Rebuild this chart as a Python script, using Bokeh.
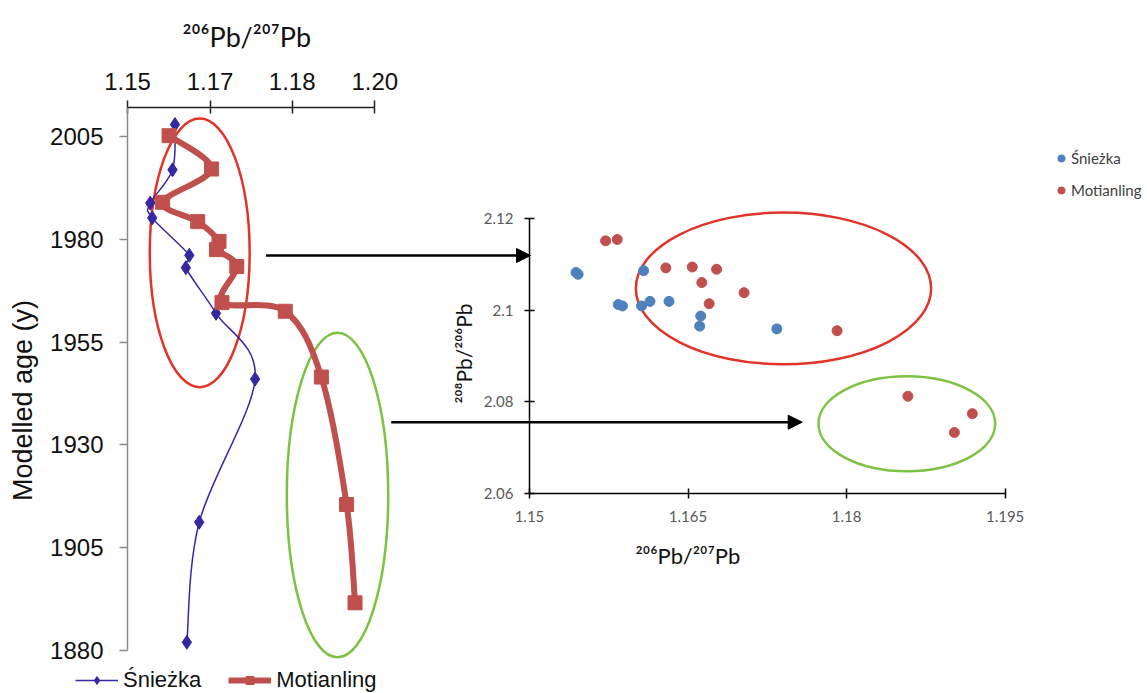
from bokeh.plotting import figure
from bokeh.models import (Range1d, FixedTicker, Title, Legend, LegendItem, Arrow, NormalHead)
from bokeh.layouts import row
from bokeh.embed import file_html
from bokeh.resources import INLINE

# ---------------- data: left chart (age profile) ----------------
SNIEZKA_AGE = [2007.9, 1996.9, 1988.8, 1985.2, 1976.1, 1973.1, 1962.0, 1946.0, 1911.2, 1882.0]
SNIEZKA_RATIO = [1.1596, 1.1591, 1.1546, 1.1550, 1.1625, 1.1618, 1.1679, 1.1758, 1.1645, 1.1620]

MOTIANLING_AGE = [2005.2, 1997.1, 1989.0, 1984.3, 1979.5, 1977.5, 1973.4, 1964.6, 1962.5, 1946.5, 1915.5, 1891.6]
MOTIANLING_RATIO = [1.1584, 1.1670, 1.1571, 1.1642, 1.1685, 1.1680, 1.1721, 1.1691, 1.1819, 1.1892, 1.1943, 1.1960]

AGE_TICKS = [1880, 1905, 1930, 1955, 1980, 2005]
TOP_TICKS = [1.15, 1.1667, 1.1833, 1.20]
TOP_TICK_LABELS = ["1.15", "1.17", "1.18", "1.20"]

# ---------------- data: right chart (208/206 vs 206/207) ----------------
SN_206_207 = [1.1544, 1.1546, 1.1608, 1.1584, 1.1588, 1.1606, 1.1614, 1.1632, 1.1662, 1.1661, 1.1734]
SN_208_206 = [2.1082, 2.1078, 2.1086, 2.1012, 2.1009, 2.1009, 2.1019, 2.1019, 2.0987, 2.0965, 2.0959]
MO_206_207 = [1.1572, 1.1583, 1.1629, 1.1654, 1.1677, 1.1663, 1.1703, 1.1670, 1.1791, 1.1858, 1.1919, 1.1902]
MO_208_206 = [2.1151, 2.1154, 2.1092, 2.1094, 2.1089, 2.1060, 2.1038, 2.1014, 2.0955, 2.0812, 2.0774, 2.0733]

R_X_TICKS = [1.15, 1.165, 1.18, 1.195]
R_X_LABELS = ["1.15", "1.165", "1.18", "1.195"]
R_Y_TICKS = [2.06, 2.08, 2.10, 2.12]
R_Y_LABELS = ["2.06", "2.08", "2.1", "2.12"]

# annotation shapes (in each chart's data units)
L_ELLIPSES = dict(x=[1.1646, 1.19246], y=[1976.7, 1917.8], w=[0.0202, 0.0205], h=[65.3, 78.9])
R_ELLIPSES = dict(x=[1.17403, 1.18570], y=[2.10473, 2.07522], w=[0.02794, 0.01672], h=[0.03309, 0.02072])
ELLIPSE_COLORS = ["#E2332A", "#7DC242"]
ARROW_Y = [1976.06, 1935.52]        # left-chart age units
ARROW_X0 = [1.17800, 1.20332]       # left-chart ratio units (start)
ARROW_X1 = [1.23148, 1.28641]       # left-chart ratio units (tip)

BLUE_DARK = "#3528A0"
RED = "#C0504D"
BLUE = "#4F81BD"
ARIAL = "Liberation Sans"
CALIBRI = "Lato"

# left-chart scale: 1.15 sits at x=127 px, 4946 px per ratio unit; 2005 at y=136 px, 4.112 px per year
PX_PER_RATIO = 4946.0
PX_PER_YEAR = 4.112


def smooth(xs, ys, t=1.0 / 6.0):
    """Bezier control points for an Excel-like smoothed line through the points."""
    n = len(xs)
    seg = {k: [] for k in ("x0", "y0", "x1", "y1", "cx0", "cy0", "cx1", "cy1")}
    for i in range(n - 1):
        xp, yp = (xs[i - 1], ys[i - 1]) if i > 0 else (xs[i], ys[i])
        xn, yn = (xs[i + 2], ys[i + 2]) if i + 2 < n else (xs[i + 1], ys[i + 1])
        seg["x0"].append(xs[i]); seg["y0"].append(ys[i])
        seg["x1"].append(xs[i + 1]); seg["y1"].append(ys[i + 1])
        seg["cx0"].append(xs[i] + (xs[i + 1] - xp) * t)
        seg["cy0"].append(ys[i] + (ys[i + 1] - yp) * t)
        seg["cx1"].append(xs[i + 1] - (xn - xs[i]) * t)
        seg["cy1"].append(ys[i + 1] - (yn - ys[i]) * t)
    return seg


def plain(fig):
    fig.frame_align = False
    fig.xgrid.visible = False
    fig.ygrid.visible = False
    fig.outline_line_color = None


Y_TOP = 2005 + (136 - 107) / PX_PER_YEAR      # value at the top axis line (y=107 px)
Y_BOTTOM = 2005 - (693 - 136) / PX_PER_YEAR   # value at the bottom of the page

# ======================= LEFT CHART axes, ellipses, arrows (bottom layer) =======================
pl = figure(width=1147, height=693,
            x_range=Range1d(1.15, 1.15 + (1147 - 127) / PX_PER_RATIO), y_range=Range1d(Y_BOTTOM, Y_TOP),
            x_axis_location="above", output_backend="svg", toolbar_location=None,
            min_border_left=127, min_border_right=0, min_border_top=107, min_border_bottom=0)
plain(pl)
pl.background_fill_color = "white"
pl.border_fill_color = "white"

xa = pl.xaxis[0]
xa.ticker = FixedTicker(ticks=TOP_TICKS)
xa.major_label_overrides = dict(zip(TOP_TICKS, TOP_TICK_LABELS))
xa.bounds = (1.15, 1.20)
xa.axis_line_width = 1.5
xa.axis_line_color = "#222222"
xa.major_tick_line_color = "#222222"
xa.major_tick_line_width = 1.5
xa.major_tick_in = 6
xa.major_tick_out = 7
xa.minor_tick_line_color = None
xa.major_label_text_font = ARIAL
xa.major_label_text_font_size = "24px"
xa.major_label_text_color = "#111111"
xa.major_label_standoff = 11

ya = pl.yaxis[0]
ya.ticker = FixedTicker(ticks=AGE_TICKS)
ya.bounds = (1880, Y_TOP)
ya.axis_line_color = "#8a8a8a"
ya.axis_line_width = 1.5
ya.major_tick_line_color = "#8a8a8a"
ya.major_tick_line_width = 1.5
ya.major_tick_in = 0
ya.major_tick_out = 8
ya.minor_tick_line_color = None
ya.major_label_text_font = ARIAL
ya.major_label_text_font_size = "24px"
ya.major_label_text_color = "#111111"
ya.major_label_standoff = 16
ya.axis_label = "Modelled age (y)"
ya.axis_label_text_font = ARIAL
ya.axis_label_text_font_size = "27px"
ya.axis_label_text_font_style = "normal"
ya.axis_label_text_color = "#111111"
ya.axis_label_standoff = 9

pl.title = Title(text="²⁰⁶Pb/²⁰⁷Pb", align="left", offset=55, text_font=CALIBRI,
                 text_font_size="27px", text_font_style="normal", text_color="#111111",
                 standoff=34)

pl.ellipse(x=L_ELLIPSES["x"], y=L_ELLIPSES["y"], width=L_ELLIPSES["w"], height=L_ELLIPSES["h"],
           fill_alpha=0, line_color=ELLIPSE_COLORS, line_width=2.5)

for x0, x1, y in zip(ARROW_X0, ARROW_X1, ARROW_Y):
    pl.add_layout(Arrow(end=NormalHead(size=14, fill_color="black", line_color="black", line_width=1),
                        x_start=x0, y_start=y, x_end=x1, y_end=y,
                        line_width=2.5, line_color="black"))

# ====== LEFT CHART series + legend (transparent overlay, same scale, frame reaches the page edge) ======
pg = figure(width=440, height=693,
            x_range=Range1d(1.15 - 127 / PX_PER_RATIO, 1.15 + (440 - 127) / PX_PER_RATIO),
            y_range=Range1d(Y_BOTTOM, Y_TOP + 107 / PX_PER_YEAR),
            x_axis_location=None, y_axis_location=None,
            output_backend="svg", toolbar_location=None,
            min_border_left=0, min_border_right=0, min_border_top=0, min_border_bottom=0)
plain(pg)
pg.margin = (0, 0, 0, -1147)
pg.background_fill_color = None
pg.border_fill_color = None

b_s = pg.bezier(line_color=BLUE_DARK, line_width=1.5, **smooth(SNIEZKA_RATIO, SNIEZKA_AGE))
d_s = pg.scatter(SNIEZKA_RATIO, SNIEZKA_AGE, marker="diamond", size=14,
                 fill_color=BLUE_DARK, line_color=BLUE_DARK)
b_m = pg.bezier(line_color=RED, line_width=6, **smooth(MOTIANLING_RATIO, MOTIANLING_AGE))
d_m = pg.scatter(MOTIANLING_RATIO, MOTIANLING_AGE, marker="square", size=14,
                 fill_color=RED, line_color=RED)

leg_l = Legend(items=[LegendItem(label="Śnieżka", renderers=[b_s, d_s]),
                      LegendItem(label="Motianling", renderers=[b_m, d_m])],
               orientation="horizontal", location=(75, 0),
               glyph_width=43, glyph_height=20, label_standoff=5, spacing=27,
               padding=0, margin=0, border_line_color=None, background_fill_alpha=0,
               label_text_font=ARIAL, label_text_font_size="22px", label_text_color="#111111")
pg.add_layout(leg_l)

# ======================= RIGHT CHART (transparent overlay) =======================
pr = figure(width=707, height=693,
            x_range=Range1d(1.15, 1.20847), y_range=Range1d(2.06, 2.16752),
            output_backend="svg", toolbar_location=None,
            min_border_left=89, min_border_right=0, min_border_top=0, min_border_bottom=200)
plain(pr)
pr.background_fill_color = None
pr.border_fill_color = None

rx = pr.xaxis[0]
rx.ticker = FixedTicker(ticks=R_X_TICKS)
rx.major_label_overrides = dict(zip(R_X_TICKS, R_X_LABELS))
rx.bounds = (1.15, 1.195)
ry = pr.yaxis[0]
ry.ticker = FixedTicker(ticks=R_Y_TICKS)
ry.major_label_overrides = dict(zip(R_Y_TICKS, R_Y_LABELS))
ry.bounds = (2.06, 2.12)
for ax in (rx, ry):
    ax.axis_line_width = 1.5
    ax.axis_line_color = "black"
    ax.major_tick_line_color = "black"
    ax.major_tick_line_width = 1.5
    ax.major_tick_in = 5
    ax.major_tick_out = 5
    ax.minor_tick_line_color = None
    ax.major_label_text_font = CALIBRI
    ax.major_label_text_font_size = "15px"
    ax.major_label_text_color = "#595959"
rx.major_label_standoff = 12
ry.major_label_standoff = 11

pr.add_layout(Title(text="²⁰⁶Pb/²⁰⁷Pb", align="left", offset=106, text_font=CALIBRI,
                    text_font_size="22px", text_font_style="normal", text_color="#111111",
                    standoff=30), "below")
pr.add_layout(Title(text="²⁰⁸Pb/²⁰⁶Pb", align="left", offset=90, text_font=CALIBRI,
                    text_font_size="21px", text_font_style="normal", text_color="#111111",
                    standoff=10), "left")

pr.ellipse(x=R_ELLIPSES["x"], y=R_ELLIPSES["y"], width=R_ELLIPSES["w"], height=R_ELLIPSES["h"],
           fill_alpha=0, line_color=ELLIPSE_COLORS, line_width=2.5)

c_s = pr.scatter(SN_206_207, SN_208_206, size=10, fill_color=BLUE, line_color=BLUE)
c_m = pr.scatter(MO_206_207, MO_208_206, size=10, fill_color=RED, line_color=RED)

leg_r = Legend(items=[LegendItem(label="Śnieżka", renderers=[c_s]),
                      LegendItem(label="Motianling", renderers=[c_m])],
               location=(523, 294), glyph_width=18, glyph_height=18, label_height=18,
               label_standoff=1, spacing=14, padding=0, margin=0,
               border_line_color=None, background_fill_alpha=0,
               label_text_font=CALIBRI, label_text_font_size="15px", label_text_color="#404040")
pr.add_layout(leg_r)

layout = row(pl, pg, pr)
open("out.html", "w").write(file_html(layout, INLINE))
